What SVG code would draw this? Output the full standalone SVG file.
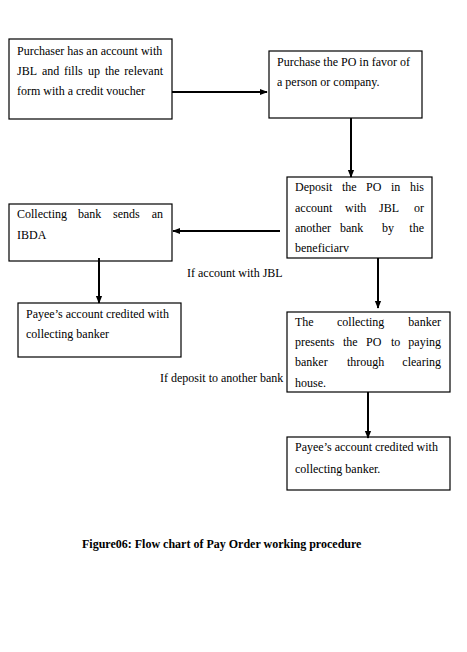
<svg xmlns="http://www.w3.org/2000/svg" width="467" height="652" viewBox="0 0 467 652">
<style>
.box{fill:#fff;stroke:#000;stroke-width:1.2}
text{font-family:"Liberation Serif","Times New Roman",serif;font-size:12px;fill:#000}
.e{text-anchor:end}
.cap{font-weight:bold}
.conn line{stroke:#000;stroke-width:2;fill:none}
</style>
<defs>
<marker id="ah" viewBox="0 0 10 10" refX="9" refY="5" markerWidth="4" markerHeight="4" orient="auto" markerUnits="strokeWidth">
<path d="M0,1 L10,5 L0,9 Z" fill="#000"/>
</marker>
</defs>
<rect width="467" height="652" fill="#fff"/>
<g id="n1">
<rect class="box" x="9" y="39" width="163" height="80"/>
<text x="17" y="55">Purchaser has an account with</text>
<text y="75"><tspan x="17">JBL</tspan><tspan x="42">and</tspan><tspan x="64">fills</tspan><tspan x="88">up</tspan><tspan x="105">the</tspan></text>
<text class="e" x="163" y="75">relevant</text>
<text x="17" y="95">form with a credit voucher</text>
</g>
<g id="n2">
<rect class="box" x="269" y="51" width="153" height="67"/>
<text x="277" y="66">Purchase the PO in favor of</text>
<text x="277" y="86">a person or company.</text>
</g>
<g id="n3">
<rect class="box" x="287" y="177" width="145" height="81"/>
<text y="191"><tspan x="295">Deposit</tspan><tspan x="342">the</tspan><tspan x="366">PO</tspan><tspan x="391">in</tspan></text>
<text class="e" x="424" y="191">his</text>
<text y="212"><tspan x="295">account</tspan><tspan x="345">with</tspan><tspan x="379">JBL</tspan></text>
<text class="e" x="424" y="212">or</text>
<text y="232"><tspan x="295">another</tspan><tspan x="340">bank</tspan><tspan x="382">by</tspan></text>
<text class="e" x="424" y="232">the</text>
<text x="295" y="252">beneficiarv</text>
</g>
<g id="n4">
<rect class="box" x="9" y="204" width="163" height="57"/>
<text y="218"><tspan x="17">Collecting</tspan><tspan x="78">bank</tspan><tspan x="113">sends</tspan></text>
<text class="e" x="163" y="218">an</text>
<text x="17" y="239">IBDA</text>
</g>
<g id="n5">
<rect class="box" x="18" y="303" width="163" height="54"/>
<text x="26" y="318">Payee’s account credited with</text>
<text x="26" y="338">collecting banker</text>
</g>
<g id="n6">
<rect class="box" x="287" y="312" width="163" height="80"/>
<text y="326"><tspan x="295">The</tspan><tspan x="337">collecting</tspan></text>
<text class="e" x="441" y="326">banker</text>
<text y="346"><tspan x="295">presents</tspan><tspan x="343">the</tspan><tspan x="366">PO</tspan><tspan x="391">to</tspan></text>
<text class="e" x="441" y="346">paying</text>
<text y="366"><tspan x="295">banker</tspan><tspan x="347">through</tspan></text>
<text class="e" x="441" y="366">clearing</text>
<text x="295" y="387">house.</text>
</g>
<g id="n7">
<rect class="box" x="287" y="437" width="163" height="53"/>
<text x="295" y="451">Payee’s account credited with</text>
<text x="295" y="473">collecting banker.</text>
</g>
<g id="connectors" class="conn">
<line x1="172" y1="92" x2="267" y2="92" marker-end="url(#ah)"/>
<line x1="351" y1="118" x2="351" y2="177" marker-end="url(#ah)"/>
<line x1="280" y1="231" x2="173" y2="231" marker-end="url(#ah)"/>
<line x1="99" y1="258" x2="99" y2="303" marker-end="url(#ah)"/>
<line x1="378" y1="258" x2="378" y2="308" marker-end="url(#ah)"/>
<line x1="368" y1="392" x2="368" y2="438" marker-end="url(#ah)"/>
</g>
<text x="187" y="277">If account with JBL</text>
<text x="160" y="382">If deposit to another bank</text>
<text class="cap" x="82" y="548">Figure06: Flow chart of Pay Order working procedure</text>
</svg>
